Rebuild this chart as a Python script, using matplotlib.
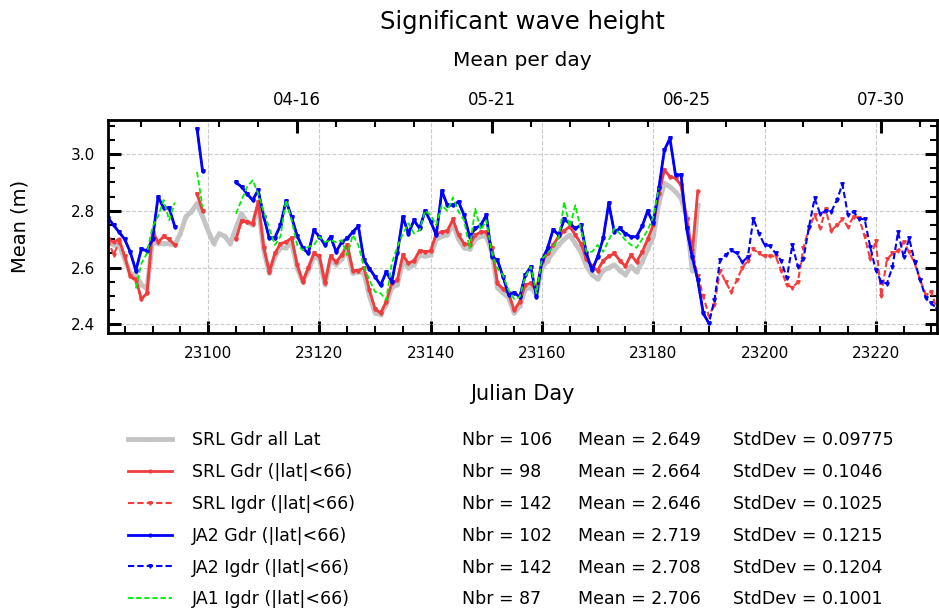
import numpy as np
import pandas as pd
import matplotlib
matplotlib.use("Agg")
import matplotlib.pyplot as plt
from matplotlib.ticker import MultipleLocator

nan = float("nan")

# CNES julian days, one value per day, nan where there is no data
gray_start = 23082
srl_all_lat = [
    2.69, 2.68, 2.68, 2.63, 2.58, 2.575, 2.54, 2.525, 2.69, 2.685,
    2.685, 2.685, 2.68, 2.72, 2.78, 2.797, 2.826, 2.78, 2.73, 2.685,
    2.72, 2.71, 2.685, 2.74, 2.79, 2.76, 2.75, 2.82, 2.66, 2.58,
    2.64, 2.67, 2.67, 2.69, 2.60, 2.55, 2.59, 2.64, 2.63, 2.54,
    2.63, 2.61, 2.63, 2.665, 2.58, 2.585, 2.58, 2.50, 2.44, 2.435,
    2.47, 2.53, 2.54, 2.625, 2.60, 2.61, 2.645, 2.64, 2.645, 2.70,
    2.71, 2.715, 2.755, 2.70, 2.67, 2.665, 2.70, 2.71, 2.71, 2.655,
    2.53, 2.51, 2.495, 2.44, 2.465, 2.525, 2.53, 2.505, 2.60, 2.625,
    2.655, 2.68, 2.70, 2.715, 2.685, 2.655, 2.605, 2.575, 2.56, 2.59,
    2.60, 2.61, 2.59, 2.575, 2.605, 2.585, 2.62, 2.665, 2.71, 2.826,
    2.897, 2.885, 2.867, 2.844, 2.78, 2.59, 2.82,
]

srl_gdr_start = 23082
srl_gdr = [
    2.70, 2.69, 2.70, 2.64, 2.57, 2.56, 2.49, 2.51, 2.73, 2.69,
    2.71, 2.70, 2.68, nan, nan, nan, 2.86, 2.80, nan, nan,
    nan, nan, nan, 2.70, 2.765, 2.76, 2.755, 2.83, 2.67, 2.585,
    2.65, 2.685, 2.69, 2.705, 2.61, 2.55, 2.60, 2.65, 2.64, 2.545,
    2.64, 2.62, 2.645, 2.68, 2.59, 2.59, 2.60, 2.52, 2.455, 2.44,
    2.48, 2.545, 2.555, 2.645, 2.615, 2.625, 2.66, 2.655, 2.66, 2.72,
    2.725, 2.73, 2.77, 2.715, 2.685, 2.68, 2.715, 2.725, 2.725, 2.67,
    2.545, 2.525, 2.51, 2.45, 2.48, 2.54, 2.545, 2.52, 2.62, 2.65,
    2.68, 2.71, 2.73, 2.745, 2.715, 2.685, 2.63, 2.605, 2.59, 2.625,
    2.64, 2.65, 2.625, 2.605, 2.645, 2.62, 2.655, 2.70, 2.75, 2.86,
    2.945, 2.92, 2.915, 2.89, 2.77, 2.65, 2.87,
]

srl_igdr_start = 23082
srl_igdr = [
    2.70, 2.645, 2.69, 2.64, 2.57, 2.55, 2.49, 2.51, 2.72, 2.69,
    2.71, 2.70, 2.68, nan, nan, nan, 2.86, 2.80, nan, nan,
    nan, nan, nan, 2.70, 2.765, 2.76, 2.755, 2.83, 2.67, 2.585,
    2.65, 2.685, 2.69, 2.705, 2.61, 2.55, 2.60, 2.65, 2.64, 2.545,
    2.64, 2.62, 2.645, 2.68, 2.59, 2.59, 2.60, 2.52, 2.455, 2.44,
    2.48, 2.545, 2.555, 2.645, 2.615, 2.625, 2.66, 2.655, 2.66, 2.72,
    2.725, 2.73, 2.77, 2.715, 2.685, 2.68, 2.715, 2.725, 2.725, 2.67,
    2.545, 2.525, 2.51, 2.45, 2.48, 2.54, 2.545, 2.52, 2.62, 2.65,
    2.68, 2.71, 2.73, 2.745, 2.715, 2.685, 2.63, 2.605, 2.59, 2.625,
    2.64, 2.65, 2.625, 2.605, 2.645, 2.62, 2.655, 2.70, 2.75, 2.86,
    2.945, 2.92, 2.915, 2.89, 2.77, 2.66, 2.57, 2.50, 2.43, 2.47,
    2.59, 2.55, 2.515, 2.555, 2.60, 2.625, 2.665, 2.65, 2.64, 2.64,
    2.64, 2.59, 2.54, 2.53, 2.55, 2.67, 2.74, 2.785, 2.74, 2.805,
    2.73, 2.75, 2.77, 2.745, 2.78, 2.775, 2.71, 2.63, 2.695, 2.50,
    2.63, 2.65, 2.66, 2.69, 2.655, 2.615, 2.555, 2.505, 2.515, 2.45,
]

ja2_gdr_start = 23082
ja2_gdr = [
    2.775, 2.75, 2.725, 2.70, 2.655, 2.59, 2.665, 2.66, 2.70, 2.85,
    2.81, 2.81, 2.745, nan, nan, nan, 3.09, 2.94, nan, nan,
    nan, nan, nan, 2.90, 2.885, 2.86, 2.838, 2.873, 2.779, 2.703,
    2.706, 2.75, 2.835, 2.779, 2.712, 2.67, 2.65, 2.732, 2.709, 2.68,
    2.709, 2.656, 2.69, 2.703, 2.726, 2.746, 2.627, 2.597, 2.568, 2.538,
    2.585, 2.55, 2.65, 2.779, 2.72, 2.767, 2.738, 2.80, 2.762, 2.715,
    2.87, 2.82, 2.82, 2.832, 2.785, 2.709, 2.738, 2.75, 2.785, 2.638,
    2.627, 2.568, 2.505, 2.512, 2.497, 2.574, 2.603, 2.497, 2.627, 2.668,
    2.734, 2.715, 2.77, 2.756, 2.738, 2.75, 2.65, 2.591, 2.638, 2.703,
    2.826, 2.726, 2.738, 2.72, 2.709, 2.709, 2.746, 2.80, 2.756, 2.879,
    3.014, 3.055, 2.926, 2.926, 2.738, 2.638, 2.556, 2.439, 2.404,
]

ja2_igdr_start = 23082
ja2_igdr = [
    2.775, 2.75, 2.725, 2.70, 2.655, 2.59, 2.665, 2.66, 2.70, 2.85,
    2.81, 2.81, 2.745, nan, nan, nan, 3.09, 2.94, nan, nan,
    nan, nan, nan, 2.90, 2.885, 2.86, 2.838, 2.873, 2.779, 2.703,
    2.706, 2.75, 2.835, 2.779, 2.712, 2.67, 2.65, 2.732, 2.709, 2.68,
    2.709, 2.656, 2.69, 2.703, 2.726, 2.746, 2.627, 2.597, 2.568, 2.538,
    2.585, 2.55, 2.65, 2.779, 2.72, 2.767, 2.738, 2.80, 2.762, 2.715,
    2.87, 2.82, 2.82, 2.832, 2.785, 2.709, 2.738, 2.75, 2.785, 2.638,
    2.627, 2.568, 2.505, 2.512, 2.497, 2.574, 2.603, 2.497, 2.627, 2.668,
    2.734, 2.715, 2.77, 2.756, 2.738, 2.75, 2.65, 2.591, 2.638, 2.703,
    2.826, 2.726, 2.738, 2.72, 2.709, 2.709, 2.746, 2.80, 2.756, 2.879,
    3.014, 3.055, 2.926, 2.926, 2.738, 2.638, 2.556, 2.439, 2.404, 2.486,
    2.627, 2.644, 2.662, 2.65, 2.62, 2.638, 2.773, 2.72, 2.68, 2.676,
    2.65, 2.625, 2.562, 2.68, 2.603, 2.632, 2.744, 2.844, 2.79, 2.80,
    2.797, 2.838, 2.894, 2.785, 2.797, 2.773, 2.77, 2.673, 2.591, 2.55,
    2.544, 2.603, 2.726, 2.638, 2.703, 2.62, 2.556, 2.492, 2.474, 2.456,
]

ja1_igdr_start = 23087
ja1_igdr = [
    2.527, 2.615, 2.65, 2.744, 2.78, 2.838, 2.767, 2.83, nan, nan,
    nan, 2.937, 2.814, nan, nan, nan, nan, nan, 2.79, 2.838,
    2.884, 2.908, 2.86, 2.797, 2.738, 2.68, 2.71, 2.838, 2.767, 2.68,
    2.662, 2.673, 2.68, 2.709, 2.69, 2.697, 2.69, 2.697, 2.644, 2.715,
    2.68, 2.603, 2.556, 2.515, 2.51, 2.486, 2.615, 2.673, 2.72, 2.756,
    2.72, 2.732, 2.80, 2.785, 2.75, 2.82, 2.80, 2.847, 2.797, 2.767,
    2.668, 2.808, 2.732, 2.767, 2.65, 2.597, 2.574, 2.52, 2.49, 2.497,
    2.568, 2.603, 2.51, 2.632, 2.65, 2.673, 2.703, 2.832, 2.744, 2.82,
    2.732, 2.656, 2.656, 2.68, 2.656, 2.697, 2.738, 2.72, 2.697, 2.68,
    2.67, 2.70, 2.732, 2.779, 2.879,
]

names = ["SRL Gdr all Lat", "SRL Gdr (|lat|<66)", "SRL Igdr (|lat|<66)",
         "JA2 Gdr (|lat|<66)", "JA2 Igdr (|lat|<66)", "JA1 Igdr (|lat|<66)"]
nbr = [106, 98, 142, 102, 142, 87]
means = ["2.649", "2.664", "2.646", "2.719", "2.708", "2.706"]
stds = ["0.09775", "0.1046", "0.1025", "0.1215", "0.1204", "0.1001"]

top_ticks = [23116, 23151, 23186, 23221]
top_labels = [(pd.Timestamp("1950-01-01") + pd.Timedelta(days=d)).strftime("%m-%d") for d in top_ticks]


def xs(start, vals):
    return np.arange(start, start + len(vals))


W, H = 939, 611
fig = plt.figure(figsize=(W / 100, H / 100), dpi=100)
ax = fig.add_axes([108 / W, 1 - 333 / H, (937 - 108) / W, (333 - 120) / H])

dash = (0, (3, 1.5))
l0, = ax.plot(xs(gray_start, srl_all_lat), srl_all_lat, color="#c4c4c4", lw=3.5, marker=".", ms=4)
l2, = ax.plot(xs(srl_igdr_start, srl_igdr), srl_igdr, color="#f53c3c", lw=1.5, ls=dash, marker="v", ms=2.5)
l1, = ax.plot(xs(srl_gdr_start, srl_gdr), srl_gdr, color="#f03c3c", lw=2, marker=".", ms=4)
l4, = ax.plot(xs(ja2_igdr_start, ja2_igdr), ja2_igdr, color="#0000ff", lw=1.5, ls=dash, marker="v", ms=2.5)
l3, = ax.plot(xs(ja2_gdr_start, ja2_gdr), ja2_gdr, color="#0000ff", lw=2, marker=".", ms=4)
l5, = ax.plot(xs(ja1_igdr_start, ja1_igdr), ja1_igdr, color="#00ee00", lw=1.3, ls=dash)
lines = [l0, l1, l2, l3, l4, l5]

ax.set_xlim(23082, 23231)
ax.set_ylim(2.37, 3.12)
ax.xaxis.set_major_locator(MultipleLocator(20))
ax.xaxis.set_minor_locator(MultipleLocator(5))
ax.yaxis.set_major_locator(MultipleLocator(0.2))
ax.yaxis.set_minor_locator(MultipleLocator(0.05))
ax.grid(True, which="major", ls="--", color="#cccccc", lw=0.8)
ax.tick_params(which="both", direction="in", top=False, right=True, labelsize=11)
ax.tick_params(which="major", length=9, width=2.2, pad=9)
ax.tick_params(which="minor", length=5, width=1.5)
for s in ax.spines.values():
    s.set_linewidth(2)
ax.set_xlabel("Julian Day", fontsize=15, labelpad=17)
ax.set_ylabel("Mean (m)", fontsize=14, labelpad=30)

ax2 = ax.twiny()
ax2.set_xlim(ax.get_xlim())
ax2.set_xticks(top_ticks)
ax2.set_xticklabels(top_labels)
ax2.xaxis.set_minor_locator(MultipleLocator(7, offset=top_ticks[0] % 7))
ax2.tick_params(which="both", direction="in", labelsize=12)
ax2.tick_params(which="major", length=9, width=2.2, pad=8)
ax2.tick_params(which="minor", length=5, width=1.5)

xc = (108 + 937) / 2 / W
fig.text(xc, 1 - 22 / H, "Significant wave height", ha="center", va="center", fontsize=17.5)
fig.text(xc, 1 - 60 / H, "Mean per day", ha="center", va="center", fontsize=14.5)

fs = 12.5
leg = fig.legend(lines, names, loc="upper left", bbox_to_anchor=(128 / W, 1 - 431 / H),
                 frameon=False, fontsize=fs, handlelength=2.53, handletextpad=1.15,
                 labelspacing=0.8, borderpad=0, borderaxespad=0, numpoints=1)
fig.canvas.draw()
inv = fig.transFigure.inverted()
for t, n, m, sd in zip(leg.get_texts(), nbr, means, stds):
    yb = inv.transform(t.get_transform().transform(t.get_position()))[1]
    fig.text(462 / W, yb, f"Nbr = {n}", fontsize=fs, va="baseline")
    fig.text(578 / W, yb, f"Mean = {m}", fontsize=fs, va="baseline")
    fig.text(733 / W, yb, f"StdDev = {sd}", fontsize=fs, va="baseline")

fig.savefig("out.png", dpi=100)
